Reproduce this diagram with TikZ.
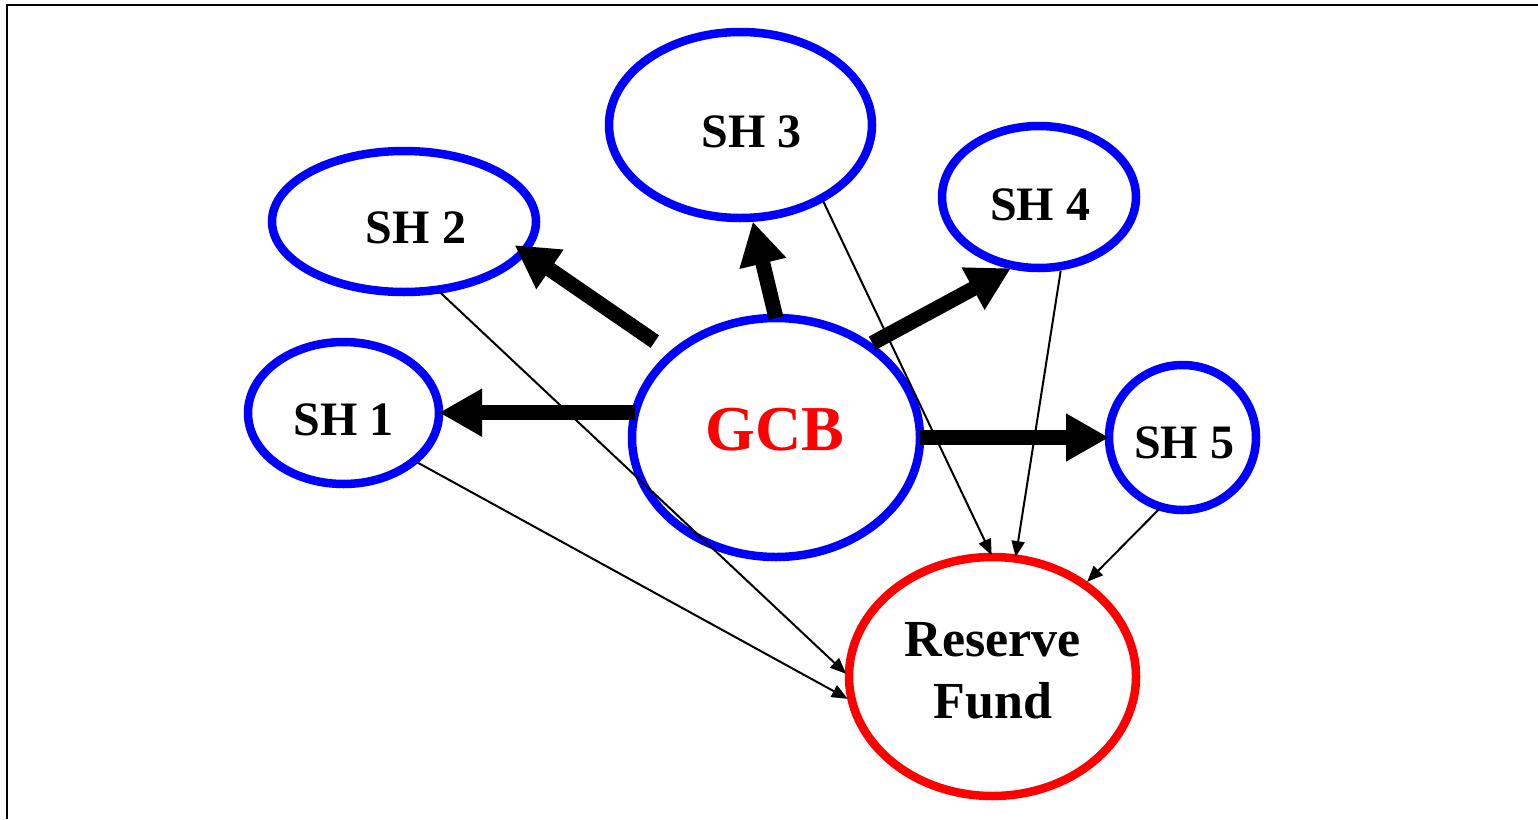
\documentclass[tikz,border=0pt]{standalone}
\usepackage{fontspec}
\setmainfont{Liberation Serif}
\usetikzlibrary{shapes.geometric,arrows.meta}
\definecolor{sblue}{RGB}{0,0,255}
\definecolor{sred}{RGB}{255,0,0}
\tikzset{
  oval/.style={ellipse, draw=sblue, line width=8.5pt, inner sep=0pt, outer sep=0pt},
  redoval/.style={oval, draw=sred},
  lbl/.style={inner sep=0pt, font=\fontsize{48}{57}\selectfont\bfseries, text=black},
  rflbl/.style={inner sep=0pt, font=\fontsize{52}{62}\selectfont\bfseries, text=black},
  biglbl/.style={inner sep=0pt, font=\fontsize{64}{70}\selectfont\bfseries, text=sred},
  bigarrow/.style={line width=15pt, -{Triangle[length=43pt,width=45pt]}},
  thinarrow/.style={line width=2pt, -{Triangle[length=16pt,width=13pt]}},
}
\begin{document}
\begin{tikzpicture}[x=1pt,y=-1pt]
\useasboundingbox (0,0) rectangle (1538,819);
\draw[line width=2.5pt] (7,819) -- (7,5) -- (1538,5);

% ellipses
\node[oval, minimum width=191pt, minimum height=142pt] (SH1) at (343.5,413) {};
\node[oval, minimum width=264pt, minimum height=141pt] (SH2) at (404,221.5) {};
\node[oval, minimum width=263pt, minimum height=186pt] (SH3) at (740.5,125) {};
\node[oval, minimum width=194pt, minimum height=142pt] (SH4) at (1039,197) {};
\node[oval, minimum width=147pt, minimum height=145pt] (SH5) at (1182.5,437.5) {};
\node[oval, minimum width=288pt, minimum height=239pt] (GCB) at (776,437.5) {};
\node[redoval, minimum width=287pt, minimum height=239pt] (RF) at (992.5,676.5) {};

% texts
\node[lbl] (tSH1) at (343.5,419.5) {SH 1};
\node[lbl] (tSH2) at (416,228) {SH 2};
\node[lbl] (tSH3) at (751.5,132) {SH 3};
\node[lbl] (tSH4) at (1040,205) {SH 4};
\node[lbl] (tSH5) at (1184,443) {SH 5};
\node[biglbl] (tGCB) at (775,430) {GCB};
\node[rflbl, align=center] (tRF) at (993,671) {Reserve\\Fund};

% thick arrows from GCB
\draw[bigarrow] (GCB.170) -- (GCB.170 -| SH1.east);
\draw[bigarrow, shorten <=22pt, shorten >=-11pt] (GCB.141) -- (SH2.-14);
\draw[bigarrow, shorten >=4pt] (GCB.90) -- (SH3.-83);
\draw[bigarrow, shorten <=5pt, shorten >=5pt] (GCB.45) -- (SH4.-109);
\draw[bigarrow] (GCB.0) -- (SH5.180);

% thin arrows to reserve fund
\draw[thinarrow, shorten <=3pt, shorten >=5pt] (SH1.-34) -- (RF.190);
\draw[thinarrow, shorten <=4pt, shorten >=4pt] (SH2.-64) -- (RF.180);
\draw[thinarrow, shorten <=4pt, shorten >=2pt] (SH3.-42) -- (RF.90);
\draw[thinarrow, shorten <=5pt, shorten >=1.5pt] (SH4.-72) -- (RF.79);
\draw[thinarrow, shorten <=3pt, shorten >=4pt] (SH5.-107) -- (RF.45);
\end{tikzpicture}
\end{document}
